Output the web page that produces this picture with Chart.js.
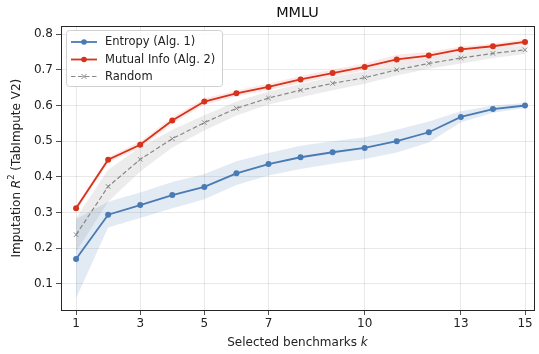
<!DOCTYPE html>
<html><head><meta charset="utf-8">
<script src="https://cdn.jsdelivr.net/npm/chart.js@4/dist/chart.umd.min.js"></script>
<style>html,body{margin:0;padding:0;background:#fff}#wrap{width:539px;height:354px}</style>
</head><body><div id="wrap"><canvas id="c" width="539" height="354"></canvas></div>
<script>
const ks = [1,2,3,4,5,6,7,8,9,10,11,12,13,14,15];
const xTicks = [1,3,5,7,10,13,15];
const yTicks = [0.1,0.2,0.3,0.4,0.5,0.6,0.7,0.8];
const entropy   = [0.170,0.294,0.321,0.349,0.372,0.410,0.436,0.455,0.469,0.481,0.500,0.525,0.568,0.590,0.600];
const entropyLo = [0.060,0.258,0.285,0.312,0.337,0.377,0.404,0.422,0.437,0.450,0.468,0.496,0.553,0.580,0.593];
const entropyHi = [0.282,0.330,0.356,0.386,0.408,0.444,0.467,0.487,0.500,0.511,0.532,0.555,0.584,0.600,0.607];
const mutual    = [0.312,0.448,0.490,0.558,0.611,0.634,0.652,0.673,0.691,0.708,0.729,0.740,0.757,0.766,0.778];
const mutualLo  = [0.304,0.440,0.481,0.549,0.602,0.626,0.643,0.663,0.681,0.698,0.716,0.730,0.749,0.758,0.770];
const mutualHi  = [0.320,0.456,0.499,0.567,0.620,0.642,0.661,0.683,0.701,0.718,0.742,0.750,0.765,0.774,0.786];
const random    = [0.238,0.373,0.449,0.507,0.552,0.592,0.621,0.643,0.662,0.678,0.700,0.718,0.733,0.746,0.756];
const randomLo  = [0.190,0.330,0.415,0.482,0.530,0.572,0.603,0.623,0.643,0.661,0.684,0.703,0.718,0.733,0.744];
const randomHi  = [0.285,0.420,0.483,0.532,0.573,0.611,0.639,0.660,0.680,0.696,0.716,0.732,0.748,0.760,0.768];
const seriesNames = ['Entropy (Alg. 1)','Mutual Info (Alg. 2)','Random'];

const BLUE='#4a7ab4', RED='#d7321c', GREY='#888888';
const pts = a => ks.map((k,i)=>({x:k,y:a[i]}));
const band = (hi,lo,col) => [
  {data:pts(hi),fill:'+1',backgroundColor:col,borderWidth:0,pointRadius:0,order:10},
  {data:pts(lo),fill:false,borderWidth:0,pointRadius:0,order:10}
];
const FONT='"DejaVu Sans", sans-serif';

const legendFrame = {
  id:'legendFrame',
  afterDraw(chart){
    const ctx=chart.ctx, a=chart.chartArea;
    ctx.save();
    ctx.strokeStyle='#262626'; ctx.lineWidth=1;
    ctx.strokeRect(Math.round(a.left)+0.5,Math.round(a.top)+0.5,Math.round(a.right-a.left),Math.round(a.bottom-a.top));
    const bx=66.5, by=30.5, bw=156, bh=56, r=3;
    ctx.fillStyle='rgba(255,255,255,0.85)'; ctx.strokeStyle='#d0d0d0';
    ctx.beginPath();
    ctx.moveTo(bx+r,by); ctx.lineTo(bx+bw-r,by); ctx.quadraticCurveTo(bx+bw,by,bx+bw,by+r);
    ctx.lineTo(bx+bw,by+bh-r); ctx.quadraticCurveTo(bx+bw,by+bh,bx+bw-r,by+bh);
    ctx.lineTo(bx+r,by+bh); ctx.quadraticCurveTo(bx,by+bh,bx,by+bh-r);
    ctx.lineTo(bx,by+r); ctx.quadraticCurveTo(bx,by,bx+r,by); ctx.closePath();
    ctx.fill(); ctx.stroke();
    const cols=[BLUE,RED,GREY]; const ys=[42,59.5,76.5];
    ctx.font='11.5px '+FONT; ctx.textBaseline='middle'; ctx.textAlign='left';
    for(let i=0;i<3;i++){
      const y=ys[i];
      ctx.strokeStyle=cols[i];
      if(i<2){ctx.lineWidth=1.8; ctx.setLineDash([]);} else {ctx.lineWidth=1.2; ctx.setLineDash([4.5,2.5]);}
      ctx.beginPath(); ctx.moveTo(71,y); ctx.lineTo(97,y); ctx.stroke(); ctx.setLineDash([]);
      if(i<2){ctx.fillStyle=cols[i]; ctx.beginPath(); ctx.arc(84,y,2.8,0,Math.PI*2); ctx.fill();}
      else {ctx.lineWidth=1; ctx.beginPath(); ctx.moveTo(81.5,y-2.5); ctx.lineTo(86.5,y+2.5); ctx.moveTo(81.5,y+2.5); ctx.lineTo(86.5,y-2.5); ctx.stroke();}
      ctx.fillStyle='#222'; ctx.fillText(seriesNames[i],105,y+0.5);
    }
    ctx.fillStyle='#222'; ctx.textBaseline='middle';
    const drawParts=(parts,cx,cy,rot)=>{
      ctx.save(); ctx.translate(cx,cy); if(rot) ctx.rotate(-Math.PI/2);
      let w=0; parts.forEach(p=>{ctx.font=p.f; w+=ctx.measureText(p.t).width;});
      let x=-w/2;
      parts.forEach(p=>{ctx.font=p.f; ctx.textAlign='left'; ctx.fillText(p.t,x,p.dy||0); x+=ctx.measureText(p.t).width;});
      ctx.restore();
    };
    drawParts([{t:'Selected benchmarks ',f:'12px '+FONT},{t:'k',f:'italic 12px '+FONT}], (a.left+a.right)/2, 343, false);
    drawParts([{t:'Imputation ',f:'12px '+FONT},{t:'R',f:'italic 12px '+FONT},{t:'2',f:'8.5px '+FONT,dy:-4.5},{t:' (TabImpute V2)',f:'12px '+FONT}], 16.5, (a.top+a.bottom)/2, true);
    ctx.restore();
  }
};

new Chart(document.getElementById('c'),{
  type:'line',
  data:{datasets:[
    ...band(entropyHi,entropyLo,'rgba(74,122,180,0.16)'),
    ...band(mutualHi,mutualLo,'rgba(215,50,28,0.11)'),
    ...band(randomHi,randomLo,'rgba(138,138,138,0.16)'),
    {label:seriesNames[0],data:pts(entropy),borderColor:BLUE,backgroundColor:BLUE,borderWidth:1.8,pointRadius:3,pointBorderWidth:0,fill:false,order:3},
    {label:seriesNames[1],data:pts(mutual),borderColor:RED,backgroundColor:RED,borderWidth:1.8,pointRadius:3,pointBorderWidth:0,fill:false,order:2},
    {label:seriesNames[2],data:pts(random),borderColor:GREY,backgroundColor:GREY,borderWidth:1.2,borderDash:[4.5,2.5],pointStyle:'crossRot',pointRadius:3.2,pointBorderWidth:1,fill:false,order:1}
  ]},
  options:{
    responsive:false,animation:false,
    layout:{padding:{left:0,right:4,top:0,bottom:0}},
    plugins:{
      legend:{display:false},tooltip:{enabled:false},
      title:{display:true,text:'MMLU',fullSize:false,color:'#111',font:{family:FONT,size:14.4,weight:'normal'},padding:{top:5,bottom:4}}
    },
    scales:{
      x:{type:'linear',min:0.53,max:15.28,
        afterBuildTicks:s=>{s.ticks=xTicks.map(v=>({value:v}));},
        afterFit:s=>{s.height=44;},
        grid:{color:'rgba(0,0,0,0.11)',lineWidth:0.8,tickLength:5,tickColor:'#262626',drawTicks:true},
        border:{display:false},
        ticks:{color:'#222',font:{family:FONT,size:12},padding:2,maxRotation:0,autoSkip:false,callback:v=>String(v)}
      },
      y:{type:'linear',min:0.027,max:0.822,
        afterBuildTicks:s=>{s.ticks=yTicks.map(v=>({value:v}));},
        afterFit:s=>{s.width=61;},
        grid:{color:'rgba(0,0,0,0.11)',lineWidth:0.8,tickLength:5,tickColor:'#262626'},
        border:{display:false},
        ticks:{color:'#222',font:{family:FONT,size:12},padding:3,callback:v=>v.toFixed(1)}
      }
    }
  },
  plugins:[legendFrame]
});
</script></body></html>
